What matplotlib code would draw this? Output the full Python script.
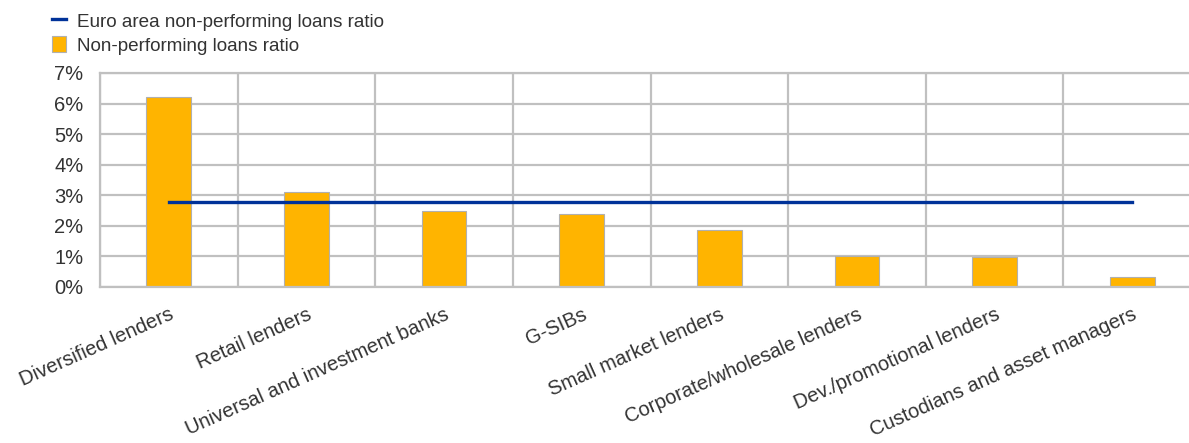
import numpy as np
import matplotlib
matplotlib.use('Agg')
from matplotlib import pyplot as plt
from matplotlib.ticker import FuncFormatter

plt.rcParams['font.family'] = ['Liberation Sans', 'DejaVu Sans']

# data
categories = ['Diversified lenders', 'Retail lenders', 'Universal and investment banks',
              'G-SIBs', 'Small market lenders', 'Corporate/wholesale lenders',
              'Dev./promotional lenders', 'Custodians and asset managers']
npl_ratio = [6.2, 3.1, 2.5, 2.4, 1.86, 1.02, 0.97, 0.34]
euro_area_npl = [2.78] * len(categories)

barColor = '#FFB400'
lineColor = '#003299'
gridColor = '#C0C0C0'
textColor = '#333333'

fig = plt.figure(figsize=(11.89, 4.43), dpi=100)
ax = fig.add_axes([100/1189, 156/443, 1101/1189, 214/443])

x = np.arange(len(categories))
ax.plot(x, euro_area_npl, color=lineColor, linewidth=2.4, zorder=3,
        label='Euro area non-performing loans ratio')
ax.bar(x, npl_ratio, width=0.325, color=barColor, edgecolor='#B0B0B0',
       linewidth=0.8, zorder=2, label='Non-performing loans ratio')

ax.set_xlim(-0.5, len(categories) - 0.5)
ax.set_ylim(0, 7)
ax.set_yticks(range(0, 8))
ax.yaxis.set_major_formatter(FuncFormatter(lambda v, p: '%d%%' % v))

# vertical separators between categories
ax.set_xticks(np.arange(-0.5, len(categories), 1), minor=True)
ax.grid(True, which='minor', axis='x', color=gridColor, linewidth=1.6, zorder=0)
ax.grid(True, which='major', axis='y', color=gridColor, linewidth=1.6, zorder=0)
ax.tick_params(axis='x', which='minor', length=0)

ax.set_xticks(x)
ax.set_xticklabels(categories, rotation=24, ha='right', rotation_mode='anchor',
                   fontsize=14.5, color=textColor)
ax.tick_params(axis='x', which='major', length=0, pad=13)
ax.tick_params(axis='y', length=0, pad=12, labelsize=14.5, labelcolor=textColor)

for s in ax.spines.values():
    s.set_color(gridColor)
    s.set_linewidth(1.6)

leg = fig.legend(loc='upper left', bbox_to_anchor=(40/1189, 1.0), frameon=False,
                 fontsize=13.6, handlelength=0.7, handleheight=0.9, handletextpad=0.6,
                 labelspacing=0.3, borderaxespad=0.25)
for t in leg.get_texts():
    t.set_color(textColor)

fig.savefig('out.png', dpi=100)
